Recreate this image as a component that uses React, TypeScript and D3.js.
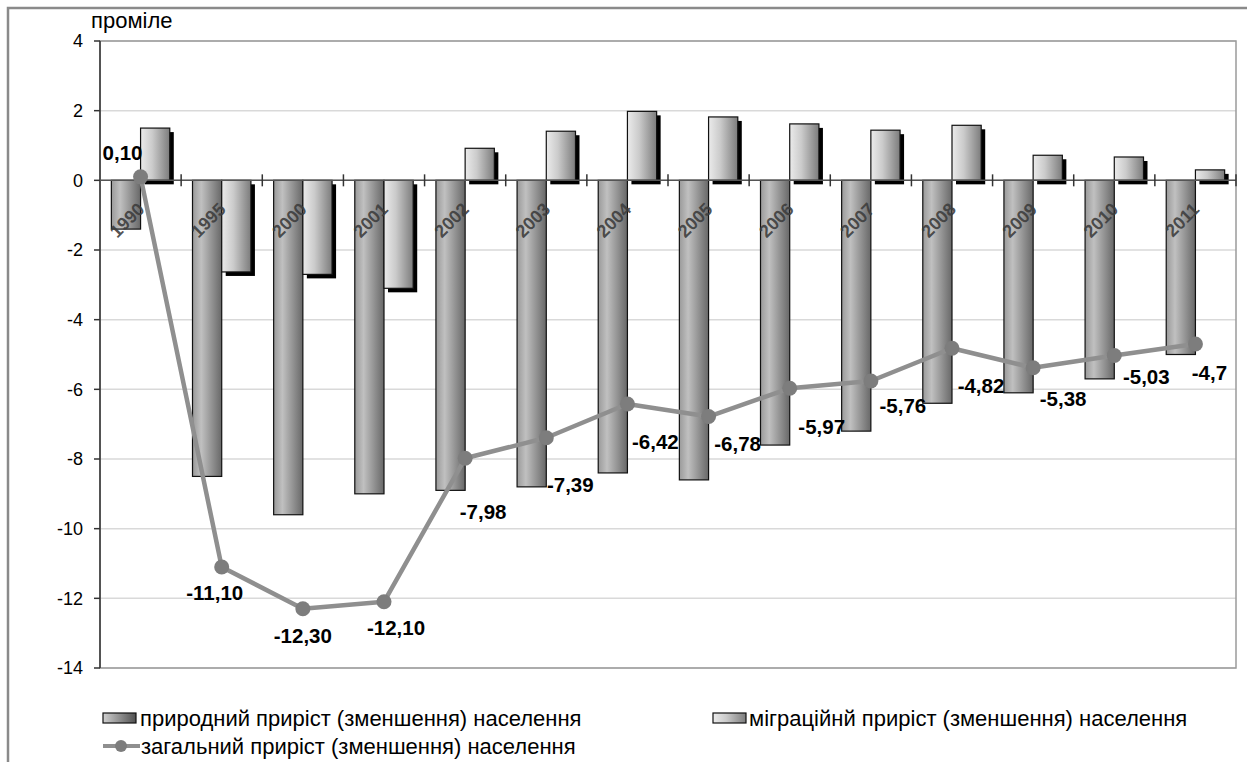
import React from "react";
import * as d3 from "d3";

const years = ["1990","1995","2000","2001","2002","2003","2004","2005","2006","2007","2008","2009","2010","2011"];
const naturalGrowth = [-1.4,-8.5,-9.6,-9.0,-8.9,-8.8,-8.4,-8.6,-7.6,-7.2,-6.4,-6.1,-5.7,-5.0];
const migrationGrowth = [1.5,-2.63,-2.7,-3.1,0.92,1.41,1.98,1.82,1.62,1.44,1.58,0.72,0.67,0.3];
const totalGrowth = [0.10,-11.10,-12.30,-12.10,-7.98,-7.39,-6.42,-6.78,-5.97,-5.76,-4.82,-5.38,-5.03,-4.7];
const totalLabels = ["0,10","-11,10","-12,30","-12,10","-7,98","-7,39","-6,42","-6,78","-5,97","-5,76","-4,82","-5,38","-5,03","-4,7"];
// label placement offsets relative to each point (annotation layout)
const labelDx = [-18,-7,0,12,18,24,28,29,32,32,29,30,32,14];
const labelDy = [-24,26,27,26,54,47,38,27,39,25,38,31,21,29];
const yTicks = [4,2,0,-2,-4,-6,-8,-10,-12,-14];
const yUnit = "проміле";
const legendNatural = "природний приріст (зменшення) населення";
const legendMigration = "міграційнй приріст (зменшення) населення";
const legendTotal = "загальний приріст (зменшення) населення";

const FONT = "'Liberation Sans', Arial, sans-serif";

export default function App() {
  const W = 1247, H = 762;
  const left = 100, right = 1236, top = 41, bottom = 668;
  const x = d3.scaleBand<string>().domain(years).range([left, right]).padding(0);
  const bw = x.bandwidth();
  const x1 = d3.scaleBand<string>().domain(["nat", "mig"]).range([bw * 0.14, bw * 0.86]).padding(0);
  const y = d3.scaleLinear().domain([-14, 4]).range([bottom, top]);
  const cx = (i: number) => (x(years[i]) as number) + bw / 2;
  const line = d3.line<number>().x((_, i) => cx(i)).y((d) => y(d));
  const y0 = y(0);

  return (
    <svg width={W} height={H} style={{ position: "absolute", left: 0, top: 0, background: "#fff" }} fontFamily={FONT}>
      <defs>
        <linearGradient id="gNat" x1="0" x2="1" y1="0" y2="0">
          <stop offset="0" stopColor="#9a9a9a" />
          <stop offset="0.3" stopColor="#c0c0c0" />
          <stop offset="1" stopColor="#686868" />
        </linearGradient>
        <linearGradient id="gMig" x1="0" x2="1" y1="0" y2="0">
          <stop offset="0" stopColor="#ebebeb" />
          <stop offset="0.4" stopColor="#cbcbcb" />
          <stop offset="1" stopColor="#7c7c7c" />
        </linearGradient>
        <linearGradient id="gLegNat" x1="0" x2="1" y1="0" y2="0">
          <stop offset="0" stopColor="#d0d0d0" />
          <stop offset="1" stopColor="#505050" />
        </linearGradient>
      </defs>
      <rect x={0} y={0} width={W} height={H} fill="#fff" />
      {/* outer frame */}
      <rect x={8} y={8} width={W + 20} height={H + 20} fill="none" stroke="#8a8a8a" strokeWidth={2.5} />

      {/* gridlines */}
      {yTicks.map((t) => (
        <line key={"g" + t} x1={left} x2={right} y1={y(t)} y2={y(t)} stroke="#d9d9d9" strokeWidth={1.5} />
      ))}
      {/* plot border */}
      <rect x={left} y={top} width={right - left} height={bottom - top} fill="none" stroke="#9a9a9a" strokeWidth={1.5} />

      {/* natural bars */}
      {naturalGrowth.map((v, i) => {
        const bx = (x(years[i]) as number) + (x1("nat") as number);
        return (
          <rect key={"n" + i} x={bx} y={Math.min(y(v), y0)} width={x1.bandwidth()} height={Math.abs(y(v) - y0)}
            fill="url(#gNat)" stroke="#111" strokeWidth={1.2} />
        );
      })}
      {/* migration bars with shadow */}
      {migrationGrowth.map((v, i) => {
        const bx = (x(years[i]) as number) + (x1("mig") as number);
        const by = Math.min(y(v), y0);
        const bh = Math.abs(y(v) - y0);
        return (
          <g key={"m" + i}>
            <rect x={bx + 4} y={by + 4} width={x1.bandwidth()} height={bh} fill="#000" />
            <rect x={bx} y={by} width={x1.bandwidth()} height={bh} fill="url(#gMig)" stroke="#111" strokeWidth={1.2} />
          </g>
        );
      })}

      {/* y axis */}
      <line x1={left} x2={left} y1={top} y2={bottom} stroke="#333" strokeWidth={1.5} />
      {yTicks.map((t) => (
        <g key={"yt" + t}>
          <line x1={left - 6} x2={left} y1={y(t)} y2={y(t)} stroke="#333" strokeWidth={1.5} />
          <text x={83} y={y(t)} dy="0.35em" textAnchor="end" fontSize={18} fill="#000">{t}</text>
        </g>
      ))}
      <text x={91} y={28} fontSize={22} fill="#000">{yUnit}</text>

      {/* zero axis */}
      <line x1={left} x2={right} y1={y0} y2={y0} stroke="#555" strokeWidth={1.5} />
      {years.map((yr) => (
        <line key={"ct" + yr} x1={(x(yr) as number) + bw} x2={(x(yr) as number) + bw} y1={y0 - 6} y2={y0 + 6} stroke="#333" strokeWidth={1.5} />
      ))}
      {years.map((yr, i) => (
        <text key={"cl" + yr} transform={`translate(${cx(i) + 5},${y0 + 30}) rotate(-45)`} textAnchor="end"
          fontSize={18} fontWeight="bold" fill="#3c3c3c" fillOpacity={0.9}>{yr}</text>
      ))}

      {/* total line */}
      <path d={line(totalGrowth) as string} fill="none" stroke="#8f8f8f" strokeWidth={4.5} strokeLinejoin="round" />
      {totalGrowth.map((v, i) => (
        <circle key={"p" + i} cx={cx(i)} cy={y(v)} r={7.5} fill="#7d7d7d" />
      ))}
      {totalGrowth.map((v, i) => (
        <text key={"l" + i} x={cx(i) + labelDx[i]} y={y(v) + labelDy[i]} dy="0.35em" textAnchor="middle"
          fontSize={20.5} fontWeight="bold" fill="#000">{totalLabels[i]}</text>
      ))}

      {/* legend */}
      <rect x={103} y={713} width={33} height={10} fill="url(#gLegNat)" stroke="#111" strokeWidth={1.2} />
      <text x={140} y={718} dy="0.35em" fontSize={22} fill="#000">{legendNatural}</text>
      <rect x={713} y={713} width={33} height={10} fill="url(#gMig)" stroke="#111" strokeWidth={1.2} />
      <text x={749} y={718} dy="0.35em" fontSize={22} fill="#000">{legendMigration}</text>
      <line x1={103} x2={140} y1={746} y2={746} stroke="#8f8f8f" strokeWidth={4} />
      <circle cx={121} cy={746} r={6} fill="#7d7d7d" />
      <text x={141} y={746} dy="0.35em" fontSize={22} fill="#000">{legendTotal}</text>
    </svg>
  );
}
